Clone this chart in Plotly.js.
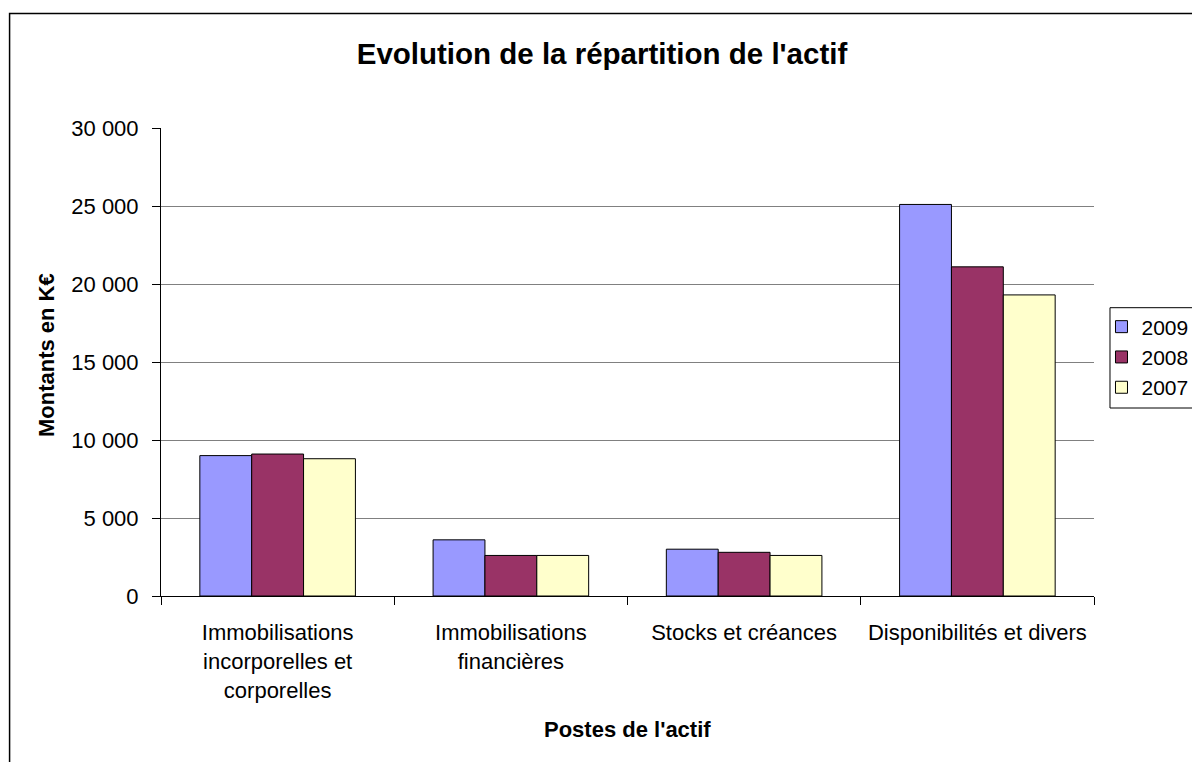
<!DOCTYPE html>
<html>
<head>
<meta charset="utf-8">
<script src="https://cdn.plot.ly/plotly-3.0.1.min.js"></script>
<style>html,body{margin:0;padding:0;background:#fff;}#chart{width:1192px;height:762px;}</style>
</head>
<body>
<div id="chart"></div>
<script>
const categories = [
  "Immobilisations<br>incorporelles et<br>corporelles",
  "Immobilisations<br>financières",
  "Stocks et créances",
  "Disponibilités et divers"
];
const seriesNames = ["2009", "2008", "2007"];
const values2009 = [9000, 3600, 3000, 25100];
const values2008 = [9100, 2600, 2800, 21100];
const values2007 = [8800, 2600, 2600, 19300];
const yTickVals = [0, 5000, 10000, 15000, 20000, 25000, 30000];
const colors = ["#9999FF", "#993366", "#FFFFCC"];

const FONT = 'Arial, "Liberation Sans", sans-serif';
const W = 1192, H = 762;
const M = {l: 161, r: 97.5, t: 128, b: 166, autoexpand: false};
const PW = W - M.l - M.r, PH = H - M.t - M.b;
const px = x => (x - M.l) / PW;
const py = y => (H - M.b - y) / PH;

const allVals = [values2009, values2008, values2007];
const traces = seriesNames.map((name, i) => ({
  type: 'bar',
  name: name,
  x: categories,
  y: allVals[i],
  marker: {color: colors[i], line: {color: '#000', width: 1}}
}));

const layout = {
  width: W, height: H,
  margin: M,
  paper_bgcolor: '#fff', plot_bgcolor: '#fff',
  separators: ', ',
  font: {family: FONT, color: '#000', size: 22},
  barmode: 'group', bargap: 0.333, bargroupgap: 0,
  title: {
    text: "<b>Evolution de la répartition de l'actif</b>",
    font: {family: FONT, size: 29.5, color: '#000'},
    xref: 'container', x: 602 / W, xanchor: 'center',
    yref: 'container', y: 1 - 54 / H, yanchor: 'middle'
  },
  xaxis: {
    type: 'category',
    showline: true, linecolor: '#000', linewidth: 1,
    ticks: 'outside', ticklen: 8, tickcolor: '#000', tickson: 'boundaries',
    ticklabelstandoff: 17,
    tickfont: {family: FONT, size: 22, color: '#000'},
    showgrid: false, automargin: false
  },
  yaxis: {
    range: [0, 30000],
    tickvals: yTickVals, tickformat: ',d',
    showline: true, linecolor: '#000', linewidth: 1,
    ticks: 'outside', ticklen: 8, tickcolor: '#000',
    ticklabelstandoff: 9,
    tickfont: {family: FONT, size: 22, color: '#000'},
    showgrid: true, gridcolor: '#808080', gridwidth: 1,
    zeroline: false, automargin: false
  },
  legend: {
    x: px(1102), xanchor: 'left', y: py(306.5), yanchor: 'top',
    borderwidth: 0, bgcolor: 'rgba(0,0,0,0)',
    font: {family: FONT, size: 21, color: '#000'},
    traceorder: 'normal'
  },
  annotations: [
    {text: "<b>Montants en K€</b>", xref: 'paper', yref: 'paper',
     x: px(46), y: py(355), xanchor: 'center', yanchor: 'middle',
     textangle: -90, showarrow: false, font: {family: FONT, size: 22, color: '#000'}},
    {text: "<b>Postes de l'actif</b>", xref: 'paper', yref: 'paper',
     x: px(628), y: py(729), xanchor: 'center', yanchor: 'middle',
     showarrow: false, font: {family: FONT, size: 22, color: '#000'}}
  ],
  shapes: [
    {type: 'rect', xref: 'paper', yref: 'paper',
     x0: px(9.5), x1: px(1300), y0: py(900), y1: py(13.5),
     line: {color: '#000', width: 1.5}, fillcolor: 'rgba(0,0,0,0)', layer: 'below'},
    {type: 'rect', xref: 'paper', yref: 'paper',
     x0: px(1110.5), x1: px(1260), y0: py(408), y1: py(307.7),
     line: {color: '#000', width: 1}, fillcolor: '#fff', layer: 'below'}
  ],
  showlegend: true
};

Plotly.newPlot('chart', traces, layout, {staticPlot: true, displayModeBar: false});
</script>
</body>
</html>
